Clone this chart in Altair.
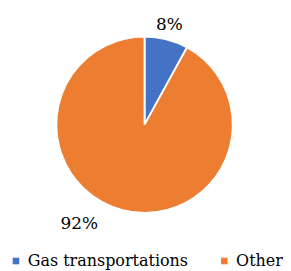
import altair as alt
import pandas as pd

categories = ["Gas transportations", "Other"]
values = [8, 92]
labels = ["8%", "92%"]
colors = ["#4472C4", "#ED7D31"]

df = pd.DataFrame({"category": categories, "value": values, "label": labels, "order": [0, 1]})
total = sum(values)

CX, CY, R = 136.5, 110.5, 94
FONT = "DejaVu Serif"

theta_scale = alt.Scale(domain=[0, total], nice=False, zero=True)

base = alt.Chart(df).transform_window(
    cum="sum(value)", sort=[alt.SortField("order")]
).transform_calculate(
    start="datum.cum - datum.value",
    mid="datum.cum - datum.value / 2",
)

color = alt.Color(
    "category:N",
    scale=alt.Scale(domain=categories, range=colors),
    legend=alt.Legend(
        title=None,
        orient="none",
        legendX=-9,
        legendY=247,
        direction="horizontal",
        symbolType="square",
        symbolSize=49,
        symbolStrokeWidth=0,
        labelFont=FONT,
        labelFontSize=17,
        labelColor="#000000",
        labelOffset=4,
        labelLimit=400,
        columnPadding=30,
    ),
)

pie = base.mark_arc(stroke="white", strokeWidth=2, radius=R).encode(
    theta=alt.Theta("start:Q", stack=None, scale=theta_scale),
    theta2=alt.Theta2("cum:Q"),
    color=color,
    x=alt.value(CX),
    y=alt.value(CY),
)

txt_small = base.transform_filter(alt.datum.category == "Gas transportations").mark_text(
    radius=106, font=FONT, fontSize=18, color="#000000", dy=-3
).encode(theta=alt.Theta("mid:Q", stack=None, scale=theta_scale), text="label:N",
         x=alt.value(CX), y=alt.value(CY))

txt_big = base.transform_filter(alt.datum.category == "Other").mark_text(
    radius=107, font=FONT, fontSize=18, color="#000000", dx=-43, dy=2
).encode(theta=alt.Theta("mid:Q", stack=None, scale=theta_scale), text="label:N",
         x=alt.value(CX), y=alt.value(CY))

chart = (pie + txt_small + txt_big).properties(
    width=275, height=255, padding=0
).configure_view(stroke=None)

chart.save("out.html", embed_options={"renderer": "svg", "actions": False})
